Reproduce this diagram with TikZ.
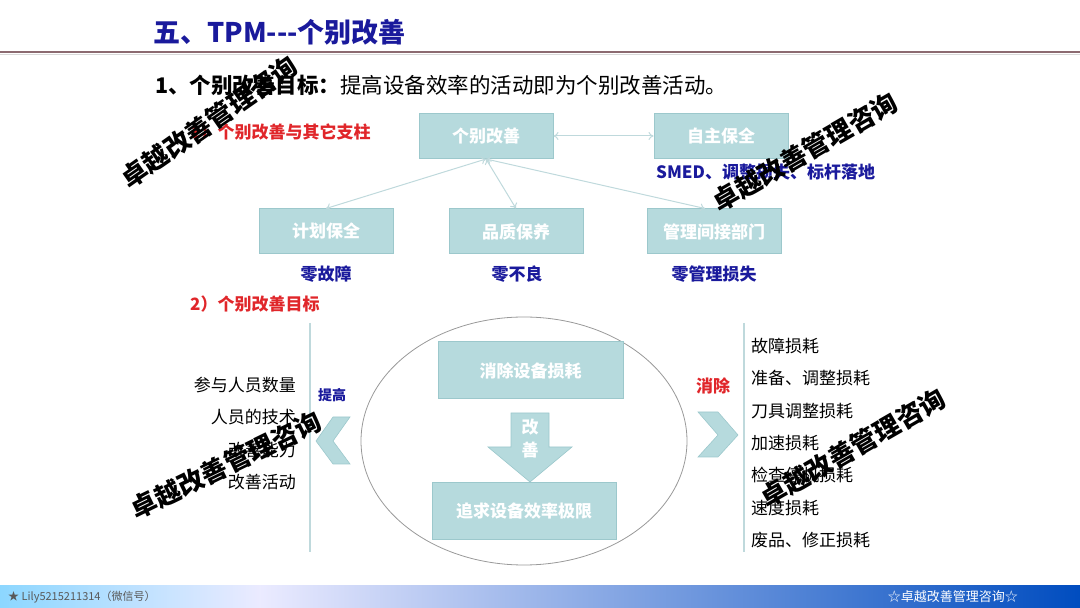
\documentclass[tikz,border=0pt]{standalone}
\usepackage{fontspec}
\setmainfont{Noto Sans CJK SC}
\usetikzlibrary{arrows.meta}
\definecolor{navy}{HTML}{1A1A9C}
\definecolor{redt}{HTML}{E0262A}
\definecolor{boxf}{HTML}{B6DADD}
\definecolor{boxd}{HTML}{9CC8CC}
\definecolor{linec}{HTML}{BFD9DC}
\definecolor{rulec}{HTML}{8C6A70}
\begin{document}
\begin{tikzpicture}[
			x=1pt, y=1pt,
			pbox/.style={draw=boxd, fill=boxf, line width=1pt, minimum width=134pt,
			minimum height=45pt, inner sep=0pt, text=white, font=\fontsize{17}{20}\selectfont\bfseries},
			tbox/.style={pbox, minimum width=185pt, minimum height=57pt},
			blbl/.style={text=navy, font=\fontsize{17}{20}\selectfont\bfseries, inner sep=0pt},
			rlbl/.style={text=redt, font=\fontsize{17}{20}\selectfont\bfseries, inner sep=0pt},
			item/.style={font=\fontsize{17}{20}\selectfont, inner sep=0pt},
			conn/.style={{To[length=5pt,width=8pt]}-{To[length=5pt,width=8pt]}, draw=linec, line width=1pt},
			chev/.style={fill=boxf, draw=boxd, line width=0.6pt},
			wm/.style={font=\fontsize{26}{28}\selectfont\bfseries, rotate=30, inner sep=0pt}
		]
			\useasboundingbox (0,0) rectangle (1080,608);

			% 标题
			\node[text=navy, anchor=west, inner sep=0pt, font=\fontsize{27}{30}\selectfont\bfseries]
				(title) at (153,576) {五、TPM-{}-{}-个别改善};
			\draw[rulec, line width=1.5pt] (0,556) -- (1080,556);
			\draw[gray!30, line width=0.6pt] (0,553.5) -- (1080,553.5);

			% 1、个别改善目标
			\node[anchor=west, inner sep=0pt, font=\fontsize{21.5}{24}\selectfont] (goal) at (155,523)
				{\textbf{1、个别改善目标：}提高设备效率的活动即为个别改善活动。};
			\node[rlbl, anchor=west] (t1) at (190,476) {1）个别改善与其它支柱};

			% 支柱
			\node[pbox] (gb) at (486,472) {个别改善};
			\node[pbox] (zz) at (721,472) {自主保全};
			\node[pbox] (jh) at (326,376.5) {计划保全};
			\node[pbox] (pz) at (516,376.5) {品质保养};
			\node[pbox] (gl) at (714,376.5) {管理间接部门};
			\node[blbl, anchor=west] (smed) at (656,436) {SMED、调整损失、标杆落地};
			\node[blbl] (l1) at (326,334) {零故障};
			\node[blbl] (l2) at (517,334) {零不良};
			\node[blbl] (l3) at (714,334) {零管理损失};

			\draw[conn] (gb) -- (zz);
			\draw[conn] (gb.south) -- (jh.north);
			\draw[conn] (gb.south) -- (pz.north);
			\draw[conn] (gb.south) -- ([xshift=-9pt]gl.north);

			% 2）个别改善目标
			\node[rlbl, anchor=west] (t2) at (190,304) {2）个别改善目标};
			\draw[linec, line width=1.2pt] (310,285) -- (310,56);
			\draw[linec, line width=1.2pt] (744,285) -- (744,56);

			% 左侧：提高
			\node[item, anchor=east] (a1) at (296,223) {参与人员数量};
			\node[item, anchor=east] (a2) at (296,191) {人员的技术};
			\node[item, anchor=east] (a3) at (296,158) {改善能力};
			\node[item, anchor=east] (a4) at (296,126) {改善活动};
			\node[text=navy, inner sep=0pt, font=\fontsize{14}{16}\selectfont\bfseries] (up) at (332,213) {提高};
			\filldraw[chev] (316,167) -- (333,191) -- (350,191) -- (333,167) -- (350,144) -- (333,144) -- cycle;

			% 中间：椭圆
			\draw[gray!80, line width=0.8pt] (524,167) ellipse [x radius=163, y radius=124];
			\node[tbox] (xc) at (530.5,237.5) {消除设备损耗};
			\node[tbox, minimum width=184pt] (zq) at (524,96.5) {追求设备效率极限};
			\filldraw[chev] (511,195) -- (549,195) -- (549,161) -- (572,161) -- (530,126)
				-- (488,161) -- (511,161) -- cycle;
			\node[text=white, inner sep=0pt, font=\fontsize{17}{20}\selectfont\bfseries] (g1) at (530,181) {改};
			\node[text=white, inner sep=0pt, font=\fontsize{17}{20}\selectfont\bfseries] (g2) at (530,158) {善};

			% 右侧：消除
			\node[rlbl] (rm) at (713,222) {消除};
			\filldraw[chev] (698,196) -- (718,196) -- (738,173) -- (718,151) -- (698,151) -- (718,173) -- cycle;
			\foreach \t [count=\i] in {故障损耗, 准备、调整损耗, 刀具调整损耗, 加速损耗, 检查停机损耗, 速度损耗, 废品、修正损耗}
				\node[item, anchor=west] (b\i) at (751,{294.5-32.4*\i}) {\t};

			% 水印
			\node[wm, rotate=5] (w1) at (209,486) {卓越改善管理咨询};
			\node[wm] (w2) at (805,456) {卓越改善管理咨询};
			\node[wm, rotate=-4] (w3) at (226,143) {卓越改善管理咨询};
			\node[wm] (w4) at (853,160) {卓越改善管理咨询};

			% 页脚
			\shade[left color=blue!35!cyan!45!white, right color=white!92!blue] (0,0) rectangle (260,22);
			\shade[left color=white!92!blue, right color=blue!60!cyan!75!black] (260,0) rectangle (1080,22);
			\node[anchor=west, text=gray!70!black, inner sep=0pt, font=\fontsize{11}{13}\selectfont] (ft1) at (8,11)
				{★ Lily5215211314（微信号）};
			\node[anchor=east, text=white, inner sep=0pt, font=\fontsize{13}{15}\selectfont] (ft2) at (1018,11)
				{☆卓越改善管理咨询☆};
		\end{tikzpicture}
\end{document}
